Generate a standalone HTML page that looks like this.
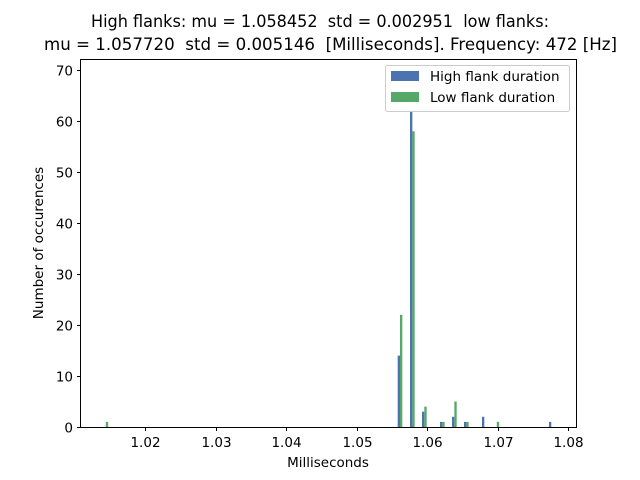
<!DOCTYPE html>
<html><head><meta charset="utf-8"><style>
body{margin:0;background:#fff;}
svg{display:block;font-family:"DejaVu Sans","Liberation Sans",sans-serif;}
.pre{white-space:pre;}
</style></head><body>
<svg id="chart" width="640" height="480" viewBox="0 0 640 480">
<rect width="640" height="480" fill="#fff"/>
<text class="pre" x="91" y="27" font-size="16.5" textLength="458" lengthAdjust="spacingAndGlyphs">High flanks: mu = 1.058452  std = 0.002951  low flanks:</text>
<text class="pre" x="44" y="50" font-size="16.5" textLength="573" lengthAdjust="spacingAndGlyphs">mu = 1.057720  std = 0.005146  [Milliseconds]. Frequency: 472 [Hz]</text>
<g id="bars"></g>
<rect x="80.5" y="59.5" width="496" height="368" fill="none" stroke="#000" stroke-width="1"/>
<g id="axes"></g>
<text x="328" y="467" font-size="13.5" text-anchor="middle">Milliseconds</text>
<text transform="translate(43,243) rotate(-90)" font-size="13.5" text-anchor="middle">Number of occurences</text>
<g>
<rect x="385.5" y="65.5" width="184" height="46" rx="2" fill="#fff" fill-opacity="0.8" stroke="#ccc"/>
<rect x="391" y="71" width="28" height="10" fill="#4c72b0"/>
<text x="430" y="81" font-size="13.5">High flank duration</text>
<rect x="391" y="92" width="28" height="10" fill="#55a868"/>
<text x="430" y="102" font-size="13.5">Low flank duration</text>
</g>
</svg>
<script>
const binStarts = [1.01411, 1.05584, 1.05759, 1.05929, 1.06184, 1.06355, 1.06525, 1.06780, 1.06957, 1.07730];
const highCounts = [0, 14, 62, 3, 1, 2, 1, 2, 0, 1];
const lowCounts = [1, 22, 58, 4, 1, 5, 1, 0, 1, 0];
const xTicks = [1.02, 1.03, 1.04, 1.05, 1.06, 1.07, 1.08];
const yTicks = [0, 10, 20, 30, 40, 50, 60, 70];
const barW = 0.00033;
const NS = "http://www.w3.org/2000/svg";
function xs(v){return 145 + (v - 1.02) * 7050;}
function ys(v){return 427 - v * 5.1;}
const bars = document.getElementById('bars');
const axes = document.getElementById('axes');
function mk(tag, attrs, parent){const e=document.createElementNS(NS,tag);for(const k in attrs)e.setAttribute(k,attrs[k]);parent.appendChild(e);return e;}
binStarts.forEach((b,i)=>{
  if(highCounts[i]>0){
    const r=mk('rect',{x:xs(b),y:ys(highCounts[i]),width:xs(b+barW)-xs(b),height:ys(0)-ys(highCounts[i]),fill:'#4c72b0'},bars);
    
    
  }
  if(lowCounts[i]>0){
    const r=mk('rect',{x:xs(b+barW),y:ys(lowCounts[i]),width:xs(b+2*barW)-xs(b+barW),height:ys(0)-ys(lowCounts[i]),fill:'#55a868'},bars);
    
    
  }
});
xTicks.forEach(t=>{
  const x=Math.round(xs(t))+0.5;
  mk('line',{x1:x,x2:x,y1:427.5,y2:431,stroke:'#000'},axes);
  const tx=mk('text',{x:x,y:447,'font-size':'13.5','text-anchor':'middle'},axes);
  tx.textContent=t.toFixed(2);
  
  
});
yTicks.forEach(t=>{
  const y=Math.round(ys(t))+0.5;
  mk('line',{x1:77,x2:80.5,y1:y,y2:y,stroke:'#000'},axes);
  const tx=mk('text',{x:73,y:y+5,'font-size':'13.5','text-anchor':'end'},axes);
  tx.textContent=t;
  
  
});
</script>
</body></html>
